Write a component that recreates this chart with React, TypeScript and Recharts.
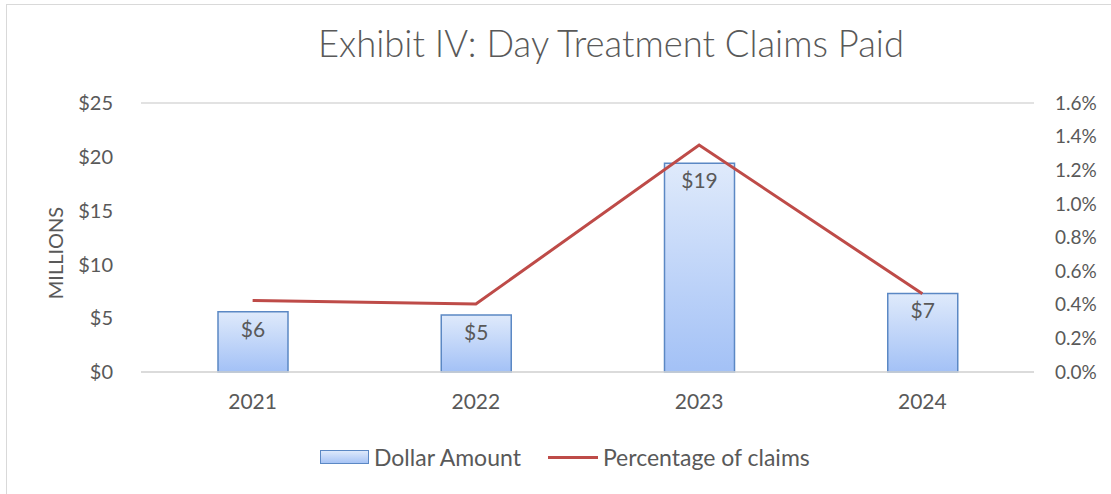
import { Bar, ComposedChart, CartesianGrid, LabelList, Line, XAxis, YAxis } from 'recharts';

const years = ['2021', '2022', '2023', '2024'];
const dollarAmount = [5.6, 5.3, 19.4, 7.3];
const percentOfClaims = [0.00425, 0.00404, 0.0135, 0.00465];
const dollarTicks = [0, 5, 10, 15, 20, 25];
const percentTicks = [0, 0.002, 0.004, 0.006, 0.008, 0.01, 0.012, 0.014, 0.016];

const data = years.map((year, i) => ({
  year,
  amount: dollarAmount[i],
  pct: percentOfClaims[i],
}));

const FONT = 'Lato, "Open Sans", sans-serif';
const TEXT = '#595959';
const GRID = '#d9d9d9';

export default function App() {
  return (
    <div style={{ position: 'fixed', left: 0, top: 0, width: 1111, height: 494, background: '#fff', overflow: 'hidden' }}>
      <div style={{ position: 'absolute', left: 6, top: 4, width: 1200, height: 600, border: '1.5px solid #d9d9d9' }} />
      <div style={{ position: 'absolute', left: 318, top: 21, whiteSpace: 'nowrap', fontFamily: FONT, fontSize: 36.4, fontWeight: 300, color: TEXT }}>
        Exhibit IV: Day Treatment Claims Paid
      </div>
      <div
        style={{
          position: 'absolute', left: 55, top: 253, transform: 'translate(-50%, -50%) rotate(-90deg)',
          whiteSpace: 'nowrap', fontFamily: FONT, fontSize: 20, color: TEXT,
        }}
      >
        MILLIONS
      </div>
      <div style={{ position: 'absolute', left: 0, top: 0 }}>
        <ComposedChart width={1111} height={494} data={data} margin={{ top: 103, right: 0, bottom: 92, left: 0 }}>
          <defs>
            <linearGradient id="barFill" x1="0" y1="0" x2="0" y2="1">
              <stop offset="0%" stopColor="#dfeafb" />
              <stop offset="100%" stopColor="#a3c1f6" />
            </linearGradient>
          </defs>
          <CartesianGrid vertical={false} stroke={GRID} strokeWidth={1.5} />
          <XAxis
            dataKey="year"
            height={30}
            axisLine={{ stroke: GRID, strokeWidth: 1.5 }}
            tickLine={false}
            tickSize={0}
            tickMargin={22}
            tick={{ fill: TEXT, fontSize: 21, fontFamily: FONT }}
          />
          <YAxis
            yAxisId="left"
            width={141}
            domain={[0, 25]}
            ticks={dollarTicks}
            interval={0}
            axisLine={false}
            tickLine={false}
            tickSize={0}
            tickMargin={28}
            tick={{ fill: TEXT, fontSize: 20, fontFamily: FONT }}
            tickFormatter={(v: number) => `$${v}`}
          />
          <YAxis
            yAxisId="right"
            orientation="right"
            width={77}
            domain={[0, 0.016]}
            ticks={percentTicks}
            interval={0}
            axisLine={false}
            tickLine={false}
            tickSize={0}
            tickMargin={21}
            tick={{ fill: TEXT, fontSize: 19, fontFamily: FONT }}
            tickFormatter={(v: number) => `${(v * 100).toFixed(1)}%`}
          />
          <Bar yAxisId="left" dataKey="amount" barSize={70} fill="url(#barFill)" stroke="#5b88c4" strokeWidth={1.5} isAnimationActive={false}>
            <LabelList
              dataKey="amount"
              position="insideTop"
              offset={10}
              formatter={(v: number) => `$${Math.round(v)}`}
              style={{ fill: TEXT, fontSize: 21, fontFamily: FONT }}
            />
          </Bar>
          <Line yAxisId="right" dataKey="pct" stroke="#be4b48" strokeWidth={3} dot={false} activeDot={false} type="linear" isAnimationActive={false} />
        </ComposedChart>
      </div>
      <div style={{ position: 'absolute', left: 320, top: 443, display: 'flex', alignItems: 'center', fontFamily: FONT, fontSize: 23, color: TEXT, whiteSpace: 'nowrap' }}>
        <span style={{ display: 'inline-block', width: 47, height: 12, border: '1.5px solid #5b88c4', background: 'linear-gradient(#dde9fb, #a7c4f5)', marginRight: 5 }} />
        <span style={{ marginRight: 27 }}>Dollar Amount</span>
        <span style={{ display: 'inline-block', width: 50, height: 3, background: '#be4b48', marginRight: 5 }} />
        <span>Percentage of claims</span>
      </div>
    </div>
  );
}
